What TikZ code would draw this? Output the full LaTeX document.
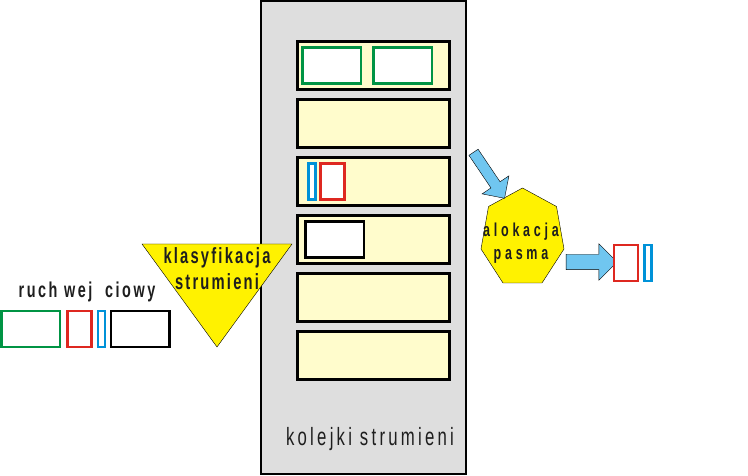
\documentclass[tikz,border=0pt]{standalone}
\usepackage{fontspec}
\setmainfont{Liberation Sans}
\newfontfamily\narrowfont[FakeStretch=0.67]{Liberation Sans}
\usetikzlibrary{positioning, shapes.arrows}
\definecolor{queuebg}{RGB}{255,252,204}
\definecolor{boxbg}{RGB}{222,222,222}
\definecolor{pktgreen}{RGB}{0,148,68}
\definecolor{pktred}{RGB}{222,40,32}
\definecolor{pktblue}{RGB}{0,146,216}
\definecolor{tagyellow}{RGB}{255,242,0}
\definecolor{flowblue}{RGB}{112,198,240}
\definecolor{inktext}{RGB}{30,30,30}
\tikzset{
queue/.style={draw, line width=3pt, fill=queuebg, minimum width=152pt, minimum height=48pt, inner sep=0pt}, % one flow queue
pkt/.style={draw, line width=2.5pt, fill=white, minimum height=36pt, inner sep=0pt}, % a packet, colour set by draw=
bigpkt/.style={pkt, minimum width=58.5pt},
redpkt/.style={pkt, draw=pktred, minimum width=24pt},
bluepkt/.style={pkt, draw=pktblue, minimum width=7pt},
tagshape/.style={draw, thin, fill=tagyellow}, % yellow triangle and heptagon
tag/.style={text=inktext, font=\narrowfont\addfontfeature{LetterSpace=10}\bfseries\fontsize{22}{26}\selectfont, align=center, inner sep=0pt},
qlabel/.style={text=inktext, font=\narrowfont\addfontfeature{LetterSpace=13}\fontsize{25}{28}\selectfont, inner sep=0pt},
flow/.style={single arrow, draw, thin, fill=flowblue}, % the thick blue arrows
}

\begin{document}
\begin{tikzpicture}[x=1pt, y=-1pt]
        \useasboundingbox (0,0) rectangle (748,476);

        \node[draw, line width=2pt, fill=boxbg, minimum width=205pt, minimum height=473pt] (box) at (363.5,237.5) {};

        \node[queue] (Q1) at (373,65.5) {};
        \node[queue, below=7pt of Q1] (Q2) {};
        \node[queue, below=7pt of Q2] (Q3) {};
        \node[queue, below=7pt of Q3] (Q4) {};
        \node[queue, below=7pt of Q4] (Q5) {};
        \node[queue, below=7pt of Q5] (Q6) {};

        \node[bigpkt, draw=pktgreen, anchor=west] (G1) at ([xshift=5.6pt]Q1.west) {};
        \node[bigpkt, draw=pktgreen, right=10pt of G1] (G2) {};
        \node[bluepkt, anchor=west] (B1) at ([xshift=11.8pt]Q3.west) {};
        \node[redpkt, right=2.3pt of B1] (R1) {};
        \node[bigpkt, anchor=west] (K1) at ([xshift=8.5pt]Q4.west) {};

        \node[qlabel, anchor=base] (kq) at (370,445) {kolejki strumieni};

        % incoming traffic
        \node[tag, font=\narrowfont\addfontfeature{LetterSpace=12}\bfseries\fontsize{21.5}{26}\selectfont, anchor=base] (in) at (87,297.5) {ruch wej\hspace{6pt} ciowy};
        \node[bigpkt, draw=pktgreen] (in1) at (30.5,329) {};
        \node[redpkt, right=5pt of in1] (in2) {};
        \node[bluepkt, right=4pt of in2] (in3) {};
        \node[bigpkt, right=3.5pt of in3] (in4) {};

        % classifier
        \draw[tagshape] (142,244) -- (292,244) -- (217,347) -- cycle;
        \node[tag, anchor=base] (cls) at (217,290) {klasyfikacja\\strumieni};

        % bandwidth allocation
        \draw[tagshape] (522.5,188) -- (556.5,206.5) -- (564,249) -- (542,283) -- (503,283) -- (481,249) -- (488.5,206.5) -- cycle;
        \node[tag, font=\narrowfont\addfontfeature{LetterSpace=20}\bfseries\fontsize{18.7}{22.6}\selectfont, anchor=base] (bw) at (521,259.3) {alokacja\\pasma};

        \node[flow, rotate=-56, minimum height=55.5pt, inner sep=5.3pt, single arrow head extend=10.7pt] (f1) at (487.5,173) {};
        \node[flow, minimum height=51pt, inner sep=7.5pt, single arrow head extend=10.5pt] (f2) at (587.7,262) {};

        \node[redpkt] (out1) at (626,263) {};
        \node[bluepkt, right=4pt of out1] (out2) {};
    \end{tikzpicture}
\end{document}
